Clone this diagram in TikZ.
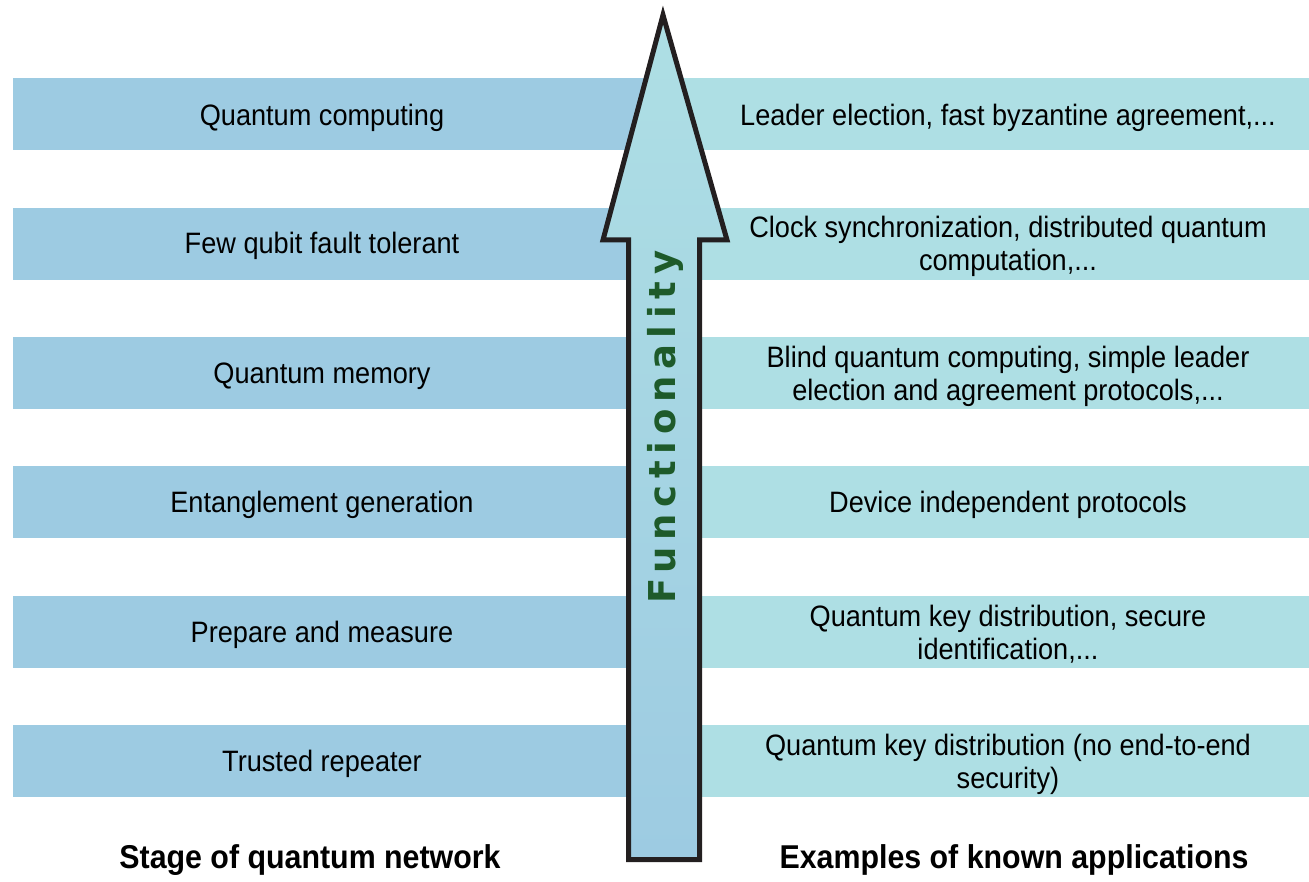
\documentclass[tikz,border=0pt]{standalone}
\usepackage{fontspec}
\setmainfont{Liberation Sans}[FakeStretch=0.92]
\newfontfamily\funcfont{DejaVu Sans}[LetterSpace=18]
\definecolor{leftband}{HTML}{9DCBE2}
\definecolor{rightband}{HTML}{AEDFE4}
\definecolor{funcgreen}{HTML}{1E5A2A}
\definecolor{outline}{HTML}{231F20}
\tikzset{
  lband/.style={fill=leftband, draw=none, minimum width=650pt, minimum height=72pt, inner sep=0pt, anchor=north west},
  rband/.style={fill=rightband, draw=none, minimum width=646pt, minimum height=72pt, inner sep=0pt, anchor=north west},
  lbl/.style={font=\fontsize{29.5}{33}\selectfont, inner sep=0pt, align=center, text=black},
  head/.style={font=\bfseries\fontsize{33}{36}\selectfont, inner sep=0pt, text=black},
  arrowshape/.style={draw=outline, line width=5pt, line join=miter, top color=rightband, bottom color=leftband},
}
\begin{document}
\begin{tikzpicture}[x=1pt,y=-1pt]
\useasboundingbox (0,0) rectangle (1309,882);
% bands
\foreach \i/\t in {1/78,2/207.4,3/336.8,4/466.2,5/595.6,6/725}{
  \node[lband] (L\i) at (13,\t) {};
  \node[rband] (R\i) at (663,\t) {};
}
% arrow
\path[arrowshape] (663,15) -- (727,240) -- (699.5,240) -- (699.5,859.5) -- (628.5,859.5) -- (628.5,240) -- (603,240) -- cycle;
\node[rotate=90, inner sep=0pt, text=funcgreen, font=\funcfont\bfseries\fontsize{37}{40}\selectfont] (func) at (665,427) {Functionality};
% left labels
\node[lbl] (l1) at (322,117.5) {Quantum computing};
\node[lbl] (l2) at (322,246) {Few qubit fault tolerant};
\node[lbl] (l3) at (322,376) {Quantum memory};
\node[lbl] (l4) at (322,505) {Entanglement generation};
\node[lbl] (l5) at (322,634.5) {Prepare and measure};
\node[lbl] (l6) at (322,764) {Trusted repeater};
% right labels
\node[lbl] (r1) at (1008,117.5) {Leader election, fast byzantine agreement,...};
\node[lbl] (r2) at (1008,246) {Clock synchronization, distributed quantum\\computation,...};
\node[lbl] (r3) at (1008,376) {Blind quantum computing, simple leader\\election and agreement protocols,...};
\node[lbl] (r4) at (1008,505) {Device independent protocols};
\node[lbl] (r5) at (1008,634.5) {Quantum key distribution, secure\\identification,...};
\node[lbl] (r6) at (1008,764) {Quantum key distribution (no end-to-end\\security)};
% headers
\node[head] (hl) at (310,860) {Stage of quantum network};
\node[head] (hr) at (1014,860) {Examples of known applications};
\end{tikzpicture}
\end{document}
